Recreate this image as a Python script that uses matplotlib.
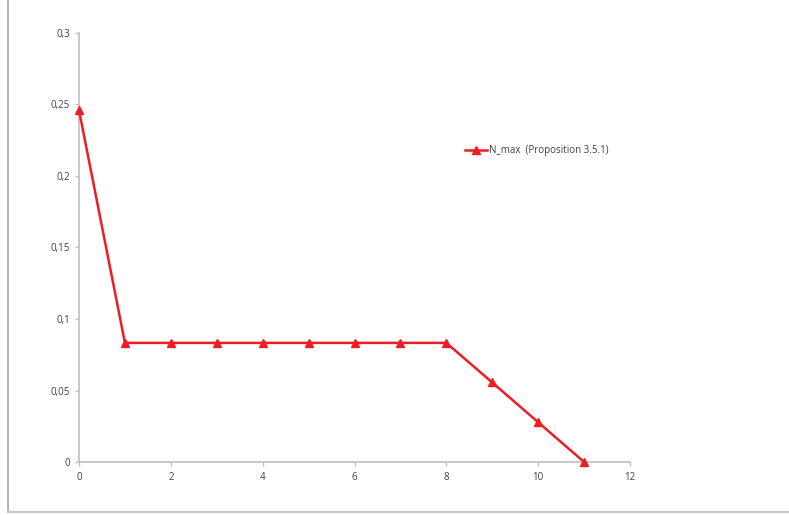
import matplotlib
matplotlib.use("Agg")
import matplotlib.pyplot as plt
from matplotlib.lines import Line2D
from matplotlib.ticker import FuncFormatter, MultipleLocator

plt.rcParams['font.family'] = ['Open Sans', 'DejaVu Sans']

# data
x_vals = [0, 1, 2, 3, 4, 5, 6, 7, 8, 9, 10, 11]
n_max = [0.246, 0.0833, 0.0833, 0.0833, 0.0833, 0.0833, 0.0833, 0.0833, 0.0833,
         0.0556, 0.0278, 0.0]
label = "N_max  (Proposition 3.5.1)"

fig = plt.figure(figsize=(7.89, 5.15), dpi=100)
ax = fig.add_axes([79/789, 1 - 462/515, (630-79)/789, (462-33)/515])

red = '#ee1c25'
ax.plot(x_vals, n_max, color=red, lw=1.8, marker='^', ms=6, label=label,
        clip_on=False, zorder=5)

ax.set_xlim(0, 12)
ax.set_ylim(0, 0.3)
ax.xaxis.set_major_locator(MultipleLocator(2))
ax.yaxis.set_major_locator(MultipleLocator(0.05))
ax.yaxis.set_major_formatter(FuncFormatter(lambda v, p: ('%g' % round(v, 2)).replace('.', ',')))

for s in ['top', 'right']:
    ax.spines[s].set_visible(False)
for s in ['left', 'bottom']:
    ax.spines[s].set_color('#bfbfbf')
    ax.spines[s].set_linewidth(1.2)
ax.tick_params(colors='#bfbfbf', labelcolor='#404040', labelsize=7, length=3, width=1)
ax.tick_params(axis='x', pad=4)

ax.legend(loc='center left', bbox_to_anchor=(0.685, 0.726), frameon=False, fontsize=7,
          handlelength=2.2, handletextpad=0.2, labelcolor='#404040')

# outer chart frame
fig.add_artist(Line2D([8/789, 8/789], [1 - 512/515, 1], color='#a6a6a6', lw=1.2))
fig.add_artist(Line2D([8/789, 1], [1 - 512/515, 1 - 512/515], color='#c8c8c8', lw=1.5))

fig.savefig('out.png', dpi=100)
